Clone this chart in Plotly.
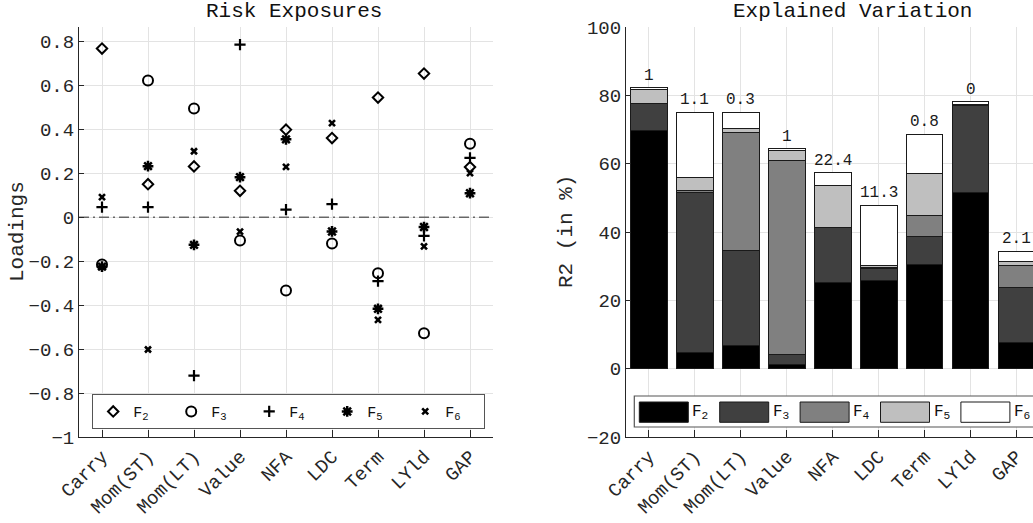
import plotly.graph_objects as go

# ---------------- data ----------------
categories = ["Carry", "Mom(ST)", "Mom(LT)", "Value", "NFA", "LDC", "Term", "LYld", "GAP"]
factor_names = ["F<sub>2</sub>", "F<sub>3</sub>", "F<sub>4</sub>", "F<sub>5</sub>", "F<sub>6</sub>"]

# Risk exposures (loadings)
load_F2 = [0.767, 0.150, 0.231, 0.120, 0.398, 0.360, 0.544, 0.653, 0.228]
load_F3 = [-0.215, 0.622, 0.494, -0.106, -0.334, -0.120, -0.255, -0.528, 0.334]
load_F4 = [0.046, 0.046, -0.721, 0.785, 0.034, 0.059, -0.291, -0.085, 0.270]
load_F5 = [-0.225, 0.232, -0.126, 0.182, 0.354, -0.065, -0.417, -0.045, 0.109]
load_F6 = [0.091, -0.602, 0.300, -0.066, 0.229, 0.428, -0.467, -0.133, 0.200]

# Explained variation (R2 contributions, in %)
r2_F2 = [69.7, 4.6, 6.8, 1.2, 25.2, 25.7, 30.4, 51.6, 7.8]
r2_F3 = [7.8, 47.1, 27.8, 3.0, 16.0, 3.6, 8.3, 25.3, 16.0]
r2_F4 = [0.1, 0.5, 34.6, 56.6, 0.1, 0.2, 6.1, 0.2, 6.5]
r2_F5 = [4.1, 3.8, 1.1, 3.1, 12.3, 0.8, 12.4, 0.2, 1.2]
r2_F6 = [0.5, 19.0, 4.7, 0.5, 3.8, 17.5, 11.4, 0.8, 2.8]
bar_labels = ["1", "1.1", "0.3", "1", "22.4", "11.3", "0.8", "0", "2.1"]

# ---------------- styling ----------------
W, H = 1033, 523
ML, MT, MR = 79, 27, 0
MB = H - 437
PW, PH = W - ML - MR, H - MT - MB
FONT = "Liberation Mono, Courier New, monospace"
AX = "#262626"
GRID = "#e3e3e3"


def px_x(p):  # screen pixel -> paper x
    return (p - ML) / PW


def px_y(p):  # screen pixel -> paper y
    return (H - MB - p) / PH


fig = go.Figure()

loads = [load_F2, load_F3, load_F4, load_F5, load_F6]
symbols = ["diamond-open", "circle-open", "cross-thin-open", "asterisk-open", "x-thin-open"]
sizes = [8, 10, 8, 9, 6]
lws = [2, 2, 2.2, 2.5, 2.6]
for name, vals, sym, sz, lw in zip(factor_names, loads, symbols, sizes, lws):
    fig.add_trace(go.Scatter(
        x=categories, y=vals, mode="markers", name=name,
        marker=dict(symbol=sym, size=sz, color="black", line=dict(width=lw, color="black")),
        xaxis="x", yaxis="y", legend="legend",
    ))

r2s = [r2_F2, r2_F3, r2_F4, r2_F5, r2_F6]
bar_colors = ["#000000", "#404040", "#808080", "#bfbfbf", "#ffffff"]
for name, vals, col in zip(factor_names, r2s, bar_colors):
    fig.add_trace(go.Bar(
        x=categories, y=vals, name=name, width=0.8,
        marker=dict(color=col, line=dict(color="#1a1a1a", width=1)),
        xaxis="x2", yaxis="y2", showlegend=False,
    ))

totals = [sum(v) for v in zip(*r2s)]
annotations = []
for c, t, lab in zip(categories, totals, bar_labels):
    annotations.append(dict(x=c, y=t, xref="x2", yref="y2", text=lab, showarrow=False,
                            yanchor="bottom", yshift=1, font=dict(family=FONT, size=16, color="#1a1a1a")))

# titles and axis labels
annotations += [
    dict(x=px_x(293.5), y=px_y(0), xref="paper", yref="paper", text="Risk Exposures", showarrow=False,
         xanchor="center", yanchor="top", borderpad=0, borderwidth=0,
         font=dict(family=FONT, size=21, color="#111")),
    dict(x=px_x(852), y=px_y(0), xref="paper", yref="paper", text="Explained Variation", showarrow=False,
         xanchor="center", yanchor="top", borderpad=0, borderwidth=0,
         font=dict(family=FONT, size=21, color="#111")),
    dict(x=px_x(17), y=px_y(232), xref="paper", yref="paper", text="Loadings", showarrow=False,
         textangle=-90, xanchor="center", yanchor="middle", font=dict(family=FONT, size=21, color=AX)),
    dict(x=px_x(566), y=px_y(232), xref="paper", yref="paper", text="R2 (in %)", showarrow=False,
         textangle=-90, xanchor="center", yanchor="middle", font=dict(family=FONT, size=21, color=AX)),
]

# manual legend for the bar chart (wide swatches)
shapes = [
    dict(type="line", xref="x domain", yref="y", x0=0, x1=1, y0=0, y1=0,
         line=dict(color=AX, width=1, dash="10px,4px,2px,4px")),
    dict(type="rect", xref="paper", yref="paper", x0=px_x(634.3), x1=px_x(1045), y0=px_y(427), y1=px_y(396),
         line=dict(color="#555", width=1.2), fillcolor="white", layer="above"),
]
for k, (name, col) in enumerate(zip(factor_names, bar_colors)):
    x0 = 639.3 + k * 80.4
    shapes.append(dict(type="rect", xref="paper", yref="paper", x0=px_x(x0), x1=px_x(x0 + 49),
                       y0=px_y(422.3), y1=px_y(402), line=dict(color="#1a1a1a", width=1),
                       fillcolor=col, layer="above"))
    annotations.append(dict(x=px_x(x0 + 51), y=px_y(412), xref="paper", yref="paper", text=name,
                            showarrow=False, xanchor="left", yanchor="middle",
                            font=dict(family=FONT, size=16, color="#111")))

axis_common = dict(showline=True, linecolor=AX, linewidth=1, ticks="inside", tickcolor=AX,
                   showgrid=True, gridcolor=GRID, gridwidth=1, zeroline=False,
                   tickfont=dict(family=FONT, size=19, color=AX))

fig.update_layout(
    width=W, height=H, margin=dict(l=ML, r=MR, t=MT, b=MB, autoexpand=False),
    paper_bgcolor="white", plot_bgcolor="white",
    barmode="stack", showlegend=True,
    xaxis=dict(domain=[0, px_x(493)], range=[-0.5, 8.5], type="category", categoryorder="array",
               categoryarray=categories, tickangle=-45, ticklen=7, anchor="y", **axis_common),
    yaxis=dict(domain=[0, 1], range=[-1, 0.865], dtick=0.2, tick0=0, ticklen=5, anchor="x", **axis_common),
    xaxis2=dict(domain=[px_x(626), 1], range=[-0.5, 8.36], type="category", categoryorder="array",
                categoryarray=categories, tickangle=-45, ticklen=7, anchor="y2", **axis_common),
    yaxis2=dict(domain=[0, 1], range=[-20, 100], dtick=20, tick0=0, ticklen=5, anchor="x2", **axis_common),
    legend=dict(orientation="h", x=px_x(92), y=px_y(394), xanchor="left", yanchor="top",
                traceorder="normal",
                bgcolor="white", bordercolor="#555", borderwidth=1.2,
                font=dict(family=FONT, size=15, color="#111"),
                entrywidth=33, entrywidthmode="pixels", itemwidth=30),
    annotations=annotations, shapes=shapes,
)

# remove the browser's default 8px body margin so the figure sits at the page origin
fig.write_html("out.html", config={"displayModeBar": False},
               post_script="document.body.style.margin='0';document.body.style.overflow='hidden';")
